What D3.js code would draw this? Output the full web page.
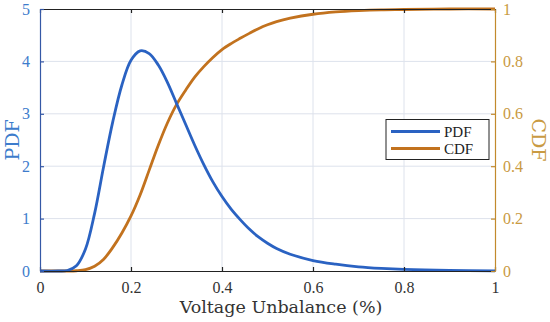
<!DOCTYPE html>
<html><head><meta charset="utf-8">
<script src="https://cdn.jsdelivr.net/npm/d3@7"></script>
<style>body{margin:0;background:#fff}svg{display:block}</style>
</head><body>
<svg id="c" width="550" height="322"></svg>
<script>
const xs  = [0, 0.04, 0.06, 0.08, 0.10, 0.12, 0.14, 0.16, 0.18, 0.20, 0.22, 0.24, 0.26, 0.28, 0.30, 0.32, 0.34, 0.36, 0.38, 0.40, 0.42, 0.44, 0.46, 0.48, 0.50, 0.52, 0.55, 0.60, 0.65, 0.70, 0.75, 0.80, 0.90, 1.0];
const pdf = [0, 0, 0.01, 0.1, 0.42, 1.1, 2.0, 2.85, 3.55, 4.02, 4.2, 4.15, 3.93, 3.6, 3.2, 2.8, 2.4, 2.03, 1.7, 1.42, 1.18, 0.98, 0.8, 0.65, 0.53, 0.43, 0.32, 0.2, 0.13, 0.08, 0.05, 0.03, 0.01, 0.003];
const cdf = [0, 0, 0, 0.001, 0.005, 0.018, 0.045, 0.09, 0.145, 0.21, 0.29, 0.385, 0.48, 0.565, 0.635, 0.69, 0.74, 0.78, 0.815, 0.845, 0.868, 0.888, 0.907, 0.925, 0.94, 0.952, 0.965, 0.98, 0.989, 0.994, 0.997, 0.998, 1, 1];
const xTicks = [0, 0.2, 0.4, 0.6, 0.8, 1];
const yLeftTicks = [0, 1, 2, 3, 4, 5];
const yRightTicks = [0, 0.2, 0.4, 0.6, 0.8, 1];
const seriesNames = ["PDF", "CDF"];

const blue = "#2a62c2", orange = "#c2721e";
const leftAxisCol = "#3558a6", leftLabelCol = "#3d7ccc";
const rightAxisCol = "#c28a2c", rightLabelCol = "#c99a42";
const font = "'Liberation Serif', 'DejaVu Serif', serif";
const font2 = "'DejaVu Serif', serif";

const L = 40, R = 495, T = 9, B = 271;
const svg = d3.select("#c");
const x = d3.scaleLinear().domain([0, 1]).range([L, R]);
const yL = d3.scaleLinear().domain([0, 5]).range([B, T]);
const yR = d3.scaleLinear().domain([0, 1]).range([B, T]);

// grid
const g = svg.append("g");
g.selectAll(".gx").data(xTicks.slice(1, -1)).enter().append("line")
  .attr("x1", d => x(d)).attr("x2", d => x(d)).attr("y1", T).attr("y2", B)
  .attr("stroke", "#dde2ec").attr("stroke-width", 1);
g.selectAll(".gy").data(yLeftTicks.slice(1, -1)).enter().append("line")
  .attr("x1", L).attr("x2", R).attr("y1", d => yL(d)).attr("y2", d => yL(d))
  .attr("stroke", "#dde2ec").attr("stroke-width", 1);

// lines
const pts = xs.map((v, i) => ({x: v, p: pdf[i], c: cdf[i]}));
svg.append("path").datum(pts)
  .attr("d", d3.line().x(d => x(d.x)).y(d => yR(d.c)).curve(d3.curveCatmullRom.alpha(0.5)))
  .attr("fill", "none").attr("stroke", orange).attr("stroke-width", 2.8);
svg.append("path").datum(pts)
  .attr("d", d3.line().x(d => x(d.x)).y(d => yL(d.p)).curve(d3.curveCatmullRom.alpha(0.5)))
  .attr("fill", "none").attr("stroke", blue).attr("stroke-width", 2.8);

// axes
const xb = svg.append("g").attr("transform", `translate(0,${B})`)
  .call(d3.axisBottom(x).tickValues(xTicks).tickFormat(d3.format("~g")).tickSizeInner(-4).tickSizeOuter(0).tickPadding(11));
const xt = svg.append("g").attr("transform", `translate(0,${T})`)
  .call(d3.axisTop(x).tickValues(xTicks).tickFormat("").tickSizeInner(-4).tickSizeOuter(0));
[xb, xt].forEach(a => { a.selectAll("path,line").attr("stroke", "#222").attr("stroke-width", 1.2); });
xb.selectAll("text").attr("font-family", font).attr("font-size", 16).attr("fill", "#333");

const yl = svg.append("g").attr("transform", `translate(${L},0)`)
  .call(d3.axisLeft(yL).tickValues(yLeftTicks).tickFormat(d3.format("d")).tickSizeInner(-4).tickSizeOuter(0).tickPadding(10));
yl.selectAll("path,line").attr("stroke", leftAxisCol).attr("stroke-width", 1.2);
yl.selectAll("text").attr("font-family", font).attr("font-size", 16).attr("fill", leftLabelCol);

const yr = svg.append("g").attr("transform", `translate(${R},0)`)
  .call(d3.axisRight(yR).tickValues(yRightTicks).tickFormat(d3.format("~g")).tickSizeInner(-4).tickSizeOuter(0).tickPadding(8));
yr.selectAll("path,line").attr("stroke", rightAxisCol).attr("stroke-width", 1.2);
yr.selectAll("text").attr("font-family", font).attr("font-size", 16).attr("fill", rightLabelCol);

// axis titles
svg.append("text").attr("x", 281).attr("y", 313).attr("text-anchor", "middle")
  .attr("font-family", font2).attr("font-size", 17.5).attr("fill", "#333").text("Voltage Unbalance (%)");
svg.append("text").attr("transform", `translate(19,${(T + B) / 2}) rotate(-90)`).attr("text-anchor", "middle")
  .attr("font-family", font2).attr("font-size", 19).attr("fill", leftLabelCol).text("PDF");
svg.append("text").attr("transform", `translate(532,${(T + B) / 2}) rotate(90)`).attr("text-anchor", "middle")
  .attr("font-family", font2).attr("font-size", 19).attr("fill", rightLabelCol).text("CDF");

// legend
const lg = svg.append("g");
lg.append("rect").attr("x", 386).attr("y", 119.5).attr("width", 103).attr("height", 40)
  .attr("fill", "#fff").attr("stroke", "#222").attr("stroke-width", 1);
[blue, orange].forEach((col, i) => {
  const yy = 131.5 + i * 17;
  lg.append("line").attr("x1", 391).attr("x2", 440).attr("y1", yy).attr("y2", yy)
    .attr("stroke", col).attr("stroke-width", 2.8);
  lg.append("text").attr("x", 444).attr("y", yy + 5).attr("font-family", font).attr("font-size", 15)
    .attr("fill", "#222").text(seriesNames[i]);
});
</script>
</body></html>
